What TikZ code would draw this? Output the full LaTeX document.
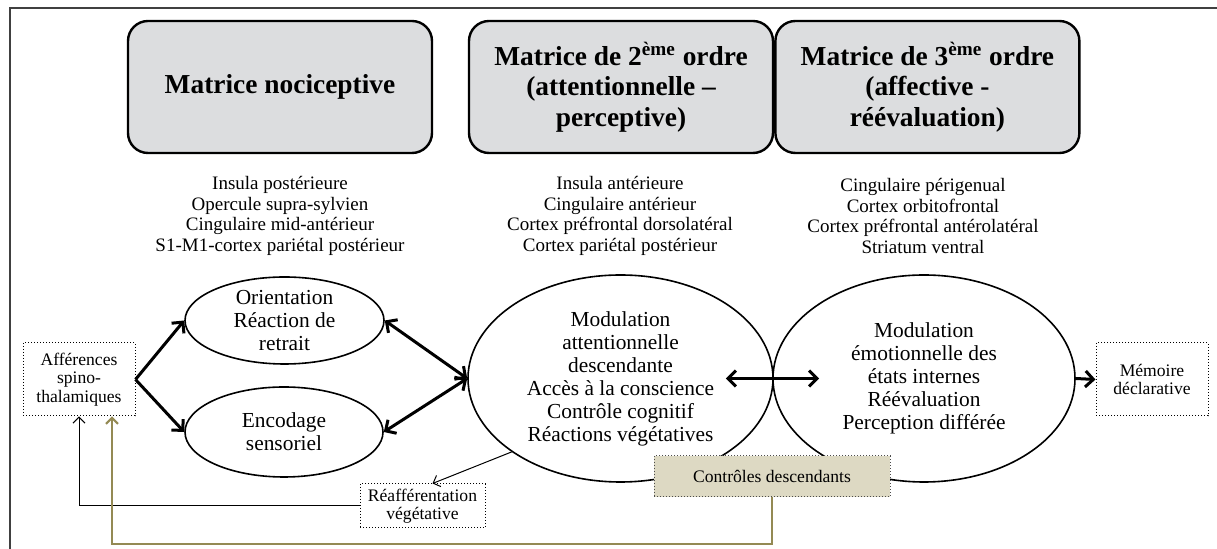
\documentclass[tikz,border=0pt]{standalone}
\usepackage{fontspec}
\setmainfont{Liberation Serif}
\usetikzlibrary{shapes.geometric, positioning, arrows.meta}
\definecolor{boxgrey}{RGB}{220,221,223}
\definecolor{ctrltan}{RGB}{221,217,195}
\definecolor{ctrlolive}{RGB}{148,138,84}

\begin{document}
\begin{tikzpicture}[x=0.5pt,y=-0.5pt,>={Straight Barb[length=4pt,width=8pt]},
    title node/.style={rectangle,rounded corners=10pt,draw,line width=1.2pt,fill=boxgrey,minimum width=152pt,minimum height=66pt,align=center,font=\fontsize{13.7}{15.25}\selectfont\bfseries},
    list node/.style={align=center,inner sep=0pt,font=\fontsize{9.5}{10.35}\selectfont},
    func node/.style={ellipse,draw,line width=0.8pt,inner xsep=0pt,inner ysep=-3pt,align=center,font=\fontsize{10.7}{11.5}\selectfont},
    dot node/.style={rectangle,draw,densely dotted,line width=0.5pt,inner sep=1pt,align=center,font=\fontsize{8.8}{9.15}\selectfont},
    thick arrow/.style={line width=1.5pt},
    thin arrow/.style={->,>={Straight Barb[length=3pt,width=6pt]},line width=0.5pt},
    frame line/.style={line width=1pt,black!75}]

\useasboundingbox (0,0) rectangle (1217,549);
\draw[frame line] (1217,8) -- (10,8) -- (10,549);

% matrices
\node[title node] (noci) at (280,87) {Matrice nociceptive};
\node[title node] (second) at (621,87) {Matrice de 2\textsuperscript{ème} ordre\\(attentionnelle –\\perceptive)};
\node[title node, right=0pt of second] (third) {Matrice de 3\textsuperscript{ème} ordre\\(affective -\\réévaluation)};

\node[list node] (nocilist) at (280,216) {Insula postérieure\\Opercule supra-sylvien\\Cingulaire mid-antérieur\\S1-M1-cortex pariétal postérieur};
\node[list node] (secondlist) at (620,216) {Insula antérieure\\Cingulaire antérieur\\Cortex préfrontal dorsolatéral\\Cortex pariétal postérieur};
\node[list node] (thirdlist) at (923,216) {Cingulaire périgenual\\Cortex orbitofrontal\\Cortex préfrontal antérolatéral\\Striatum ventral};

% fonctions
\node[func node, minimum width=99.5pt, minimum height=43.5pt] (orient) at (284.5,320.5) {Orientation\\Réaction de\\retrait};
\node[func node, minimum width=99pt, minimum height=45pt] (encod) at (284,432) {Encodage\\sensoriel};
\node[func node, minimum width=152.5pt, minimum height=103.5pt] (modul) at (620.5,378.5) {Modulation\\attentionnelle\\descendante\\Accès à la conscience\\Contrôle cognitif\\Réactions végétatives};
\node[func node, minimum width=151pt, minimum height=103.5pt] (emot) at (924,378.5) {Modulation\\émotionnelle des\\états internes\\Réévaluation\\Perception différée};

\node[dot node, minimum width=56pt, minimum height=36.5pt] (aff) at (79,379.5) {Afférences\\spino-\\thalamiques};
\node[dot node, minimum width=56pt, minimum height=36.5pt] (mem) at (1152,379.5) {Mémoire\\déclarative};
\node[dot node, minimum width=62.5pt, minimum height=22pt] (reaf) at (422.5,506) {Réafférentation\\végétative};
\node[dot node, draw=black!70, fill=ctrltan, minimum width=118pt, minimum height=20.5pt] (ctrl) at (772,476.5) {Contrôles descendants};

\draw[thick arrow, ->] (aff.east) -- (orient.west);
\draw[thick arrow, ->] (aff.east) -- (encod.west);
\draw[thick arrow, <->] (orient.east) -- (modul.west);
\draw[thick arrow, <->] (encod.east) -- (modul.west);
\draw[thick arrow, <->] ([xshift=-24pt]modul.east) -- ([xshift=23.5pt]emot.west);
\draw[thick arrow, ->] (emot.east) -- (mem.west);

\draw[thin arrow] (modul.214) -- ([xshift=5pt]reaf.north);
\draw[thin arrow] (reaf.west) -| (aff.south);
\draw[thin arrow, ctrlolive, line width=1pt] (ctrl.south) -- ++(0,47) -| ([xshift=16.5pt]aff.south);
\end{tikzpicture}
\end{document}
